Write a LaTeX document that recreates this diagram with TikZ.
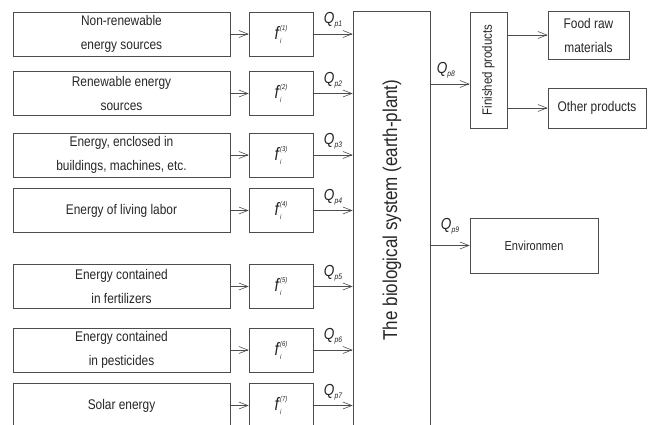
\documentclass[tikz,border=0pt]{standalone}
\usepackage{fontspec}
\setmainfont{Liberation Sans}[FakeStretch=0.85]
\usetikzlibrary{arrows.meta}

\tikzset{
    blk/.style={draw=black!70, line width=0.6pt, inner sep=0pt, align=center,
        text=black!85, font=\fontsize{14}{24}\selectfont},
    srcbox/.style={blk, minimum width=217pt, minimum height=44pt},
    fbox/.style={blk, minimum width=64pt, minimum height=44pt, font=\fontsize{18}{18}\selectfont},
    flow/.style={draw=black!70, line width=0.6pt, -{Straight Barb[length=9pt,width=7pt]}},
    qlab/.style={midway, above=2pt, text=black!85, font=\fontsize{16}{16}\selectfont},
}

\newcommand{\fconv}[1]{{\itshape f\rlap{\raisebox{-4pt}{\fontsize{7}{7}\selectfont\,i}}%
    \raisebox{9pt}{\fontsize{7}{7}\selectfont\,(#1)}}}
\newcommand{\qflow}[1]{{\itshape Q\raisebox{-3pt}{\fontsize{8}{8}\selectfont p#1}}}

\begin{document}
\begin{tikzpicture}[x=1pt, y=-1pt]

        % cornice della figura
        \useasboundingbox (0,0) rectangle (648,425);
        \clip (0,0) rectangle (648,425);

        % ==========================================
        % SINISTRA: fonti di energia
        % ==========================================
        \node[srcbox] (src1) at (121.5,34)    {Non-renewable\\ energy sources};
        \node[srcbox] (src2) at (121.5,93.5)  {Renewable energy\\ sources};
        \node[srcbox] (src3) at (121.5,155)   {Energy, enclosed in\\ buildings, machines, etc.};
        \node[srcbox] (src4) at (121.5,210.5) {Energy of living labor};
        \node[srcbox] (src5) at (121.5,286.5) {Energy contained\\ in fertilizers};
        \node[srcbox] (src6) at (121.5,350)   {Energy contained\\ in pesticides};
        \node[srcbox] (src7) at (121.5,405.5) {Solar energy};

        % funzioni di conversione
        \node[fbox] (f1) at (281,34)    {\fconv{1}};
        \node[fbox] (f2) at (281,93.5)  {\fconv{2}};
        \node[fbox] (f3) at (281,155)   {\fconv{3}};
        \node[fbox] (f4) at (281,210.5) {\fconv{4}};
        \node[fbox] (f5) at (281,286.5) {\fconv{5}};
        \node[fbox] (f6) at (281,350)   {\fconv{6}};
        \node[fbox] (f7) at (281,405.5) {\fconv{7}};

        \draw[flow] (src1) -- (f1);
        \draw[flow] (src2) -- (f2);
        \draw[flow] (src3) -- (f3);
        \draw[flow] (src4) -- (f4);
        \draw[flow] (src5) -- (f5);
        \draw[flow] (src6) -- (f6);
        \draw[flow] (src7) -- (f7);

        % ==========================================
        % CENTRO: sistema biologico
        % ==========================================
        \node[blk, minimum width=77pt, minimum height=429pt] (bio) at (391.5,225.5) {};
        \node[rotate=90, text=black!85, font=\fontsize{20}{20}\selectfont] (biotxt) at (392,210)
            {The biological system (earth-plant)};

        \draw[flow] (f1) -- (f1 -| bio.west) node[qlab] {\qflow{1}};
        \draw[flow] (f2) -- (f2 -| bio.west) node[qlab] {\qflow{2}};
        \draw[flow] (f3) -- (f3 -| bio.west) node[qlab] {\qflow{3}};
        \draw[flow] (f4) -- (f4 -| bio.west) node[qlab] {\qflow{4}};
        \draw[flow] (f5) -- (f5 -| bio.west) node[qlab] {\qflow{5}};
        \draw[flow] (f6) -- (f6 -| bio.west) node[qlab] {\qflow{6}};
        \draw[flow] (f7) -- (f7 -| bio.west) node[qlab] {\qflow{7}};

        % ==========================================
        % DESTRA: prodotti e ambiente
        % ==========================================
        \node[blk, minimum width=116pt, minimum height=37pt, rotate=90,
            font=\fontsize{13.5}{14}\selectfont] (fin) at (488.5,70) {Finished products};
        \node[blk, minimum width=81pt, minimum height=48pt] (food) at (588.5,35) {Food raw\\ materials};
        \node[blk, minimum width=98pt, minimum height=40pt] (other) at (597,108) {Other products};
        \node[blk, minimum width=128pt, minimum height=55pt,
            font=\fontsize{13}{14}\selectfont] (env) at (534,245.5) {Environmen};

        \coordinate (q8) at (430,84);
        \draw[flow] (q8) -- (q8 -| fin.north) node[qlab, xshift=-4pt] {\qflow{8}};
        \draw[flow] (bio.east |- env) -- (env) node[qlab, above=6pt] {\qflow{9}};

        \draw[flow] (fin.south |- food) -- (food);
        \draw[flow] (fin.south |- other) -- (other);

    \end{tikzpicture}
\end{document}
